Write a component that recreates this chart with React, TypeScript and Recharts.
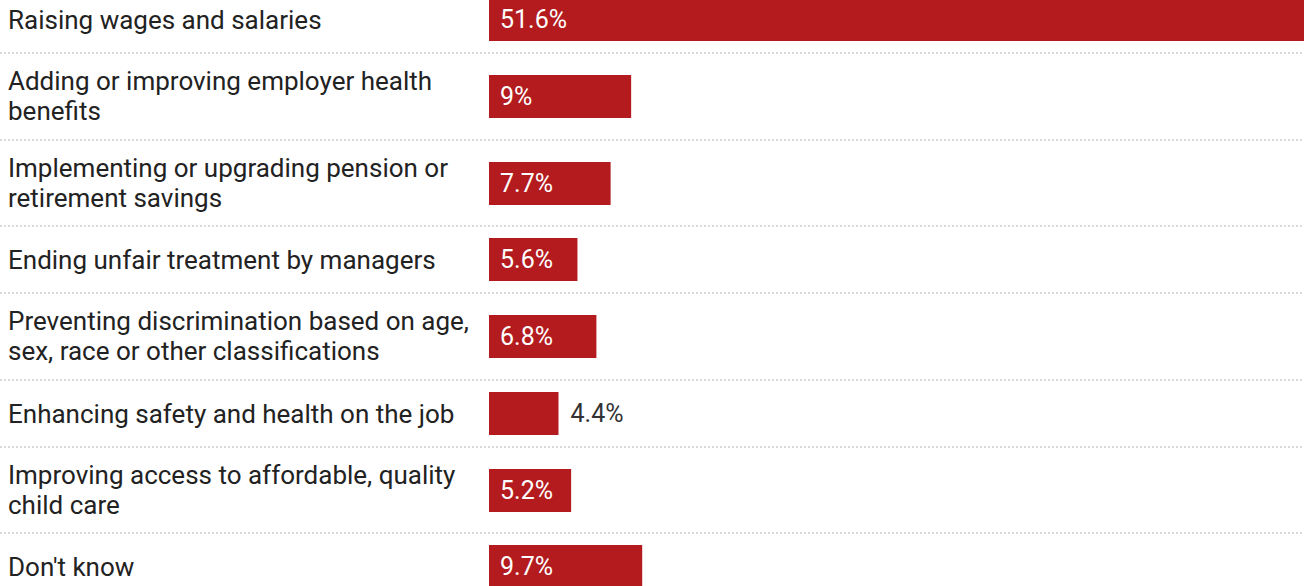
import { BarChart, Bar, XAxis, YAxis, LabelList } from 'recharts'

const CATEGORIES = [
  'Raising wages and salaries',
  'Adding or improving employer health\nbenefits',
  'Implementing or upgrading pension or\nretirement savings',
  'Ending unfair treatment by managers',
  'Preventing discrimination based on age,\nsex, race or other classifications',
  'Enhancing safety and health on the job',
  'Improving access to affordable, quality\nchild care',
  "Don't know",
]

const VALUES = [51.6, 9, 7.7, 5.6, 6.8, 4.4, 5.2, 9.7]

const BAR_COLOR = '#b31b1e'
const TEXT_COLOR = '#222222'
const CHART_WIDTH = 1304
const LABEL_COL = 489
const LABEL_X = 8
const FONT = 'Roboto, "Noto Sans", sans-serif'
const LABEL_SIZE = 26
const VALUE_SIZE = 25
const LINE_GAP = 30
const MAX_VALUE = Math.max(...VALUES)

function rowHeight(label: string): number {
  const lines = label.split('\n').length
  return 67 + (lines - 1) * 19.5
}

function LabelTick(props: any) {
  const { y, payload } = props
  const lines = String(payload.value).split('\n')
  const top = y - ((lines.length - 1) * LINE_GAP) / 2 + LABEL_SIZE * 0.355
  return (
    <text x={LABEL_X} y={top} fill={TEXT_COLOR} fontSize={LABEL_SIZE} fontFamily={FONT} textAnchor="start">
      {lines.map((line, i) => (
        <tspan key={i} x={LABEL_X} y={top + i * LINE_GAP}>
          {line}
        </tspan>
      ))}
    </text>
  )
}

// label sits inside the bar when it fits, otherwise just right of it
function ValueLabel(props: any) {
  const { x, y, width, height, value } = props
  const text = `${value}%`
  const needed = text.length * 13.5 + 22
  const inside = width >= needed
  const ty = y + height / 2 + VALUE_SIZE * 0.355
  return (
    <text
      x={inside ? x + 11 : x + width + 12}
      y={ty}
      fill={inside ? '#ffffff' : '#333333'}
      fontSize={VALUE_SIZE}
      fontFamily={FONT}
      textAnchor="start"
    >
      {text}
    </text>
  )
}

function Row({ label, value, first }: { label: string; value: number; first: boolean }) {
  const height = rowHeight(label)
  const data = [{ label, value }]
  return (
    <div style={{ position: 'relative', height }}>
      {!first && (
        <div
          style={{
            position: 'absolute',
            top: -1,
            left: 0,
            width: CHART_WIDTH,
            height: 2,
            backgroundImage: 'repeating-linear-gradient(to right, #dadada 0 2px, transparent 2px 4px)',
          }}
        />
      )}
      <BarChart
        width={CHART_WIDTH}
        height={height}
        data={data}
        layout="vertical"
        margin={{ top: 0, right: 0, bottom: 0, left: 0 }}
      >
        <XAxis type="number" domain={[0, MAX_VALUE]} hide />
        <YAxis
          type="category"
          dataKey="label"
          width={LABEL_COL}
          axisLine={false}
          tickLine={false}
          tick={<LabelTick />}
        />
        <Bar dataKey="value" fill={BAR_COLOR} barSize={43} isAnimationActive={false}>
          <LabelList dataKey="value" content={<ValueLabel />} />
        </Bar>
      </BarChart>
    </div>
  )
}

export default function App() {
  return (
    <div
      style={{
        position: 'fixed',
        left: 0,
        top: 0,
        width: CHART_WIDTH,
        height: 586,
        overflow: 'hidden',
        background: '#ffffff',
        fontFamily: FONT,
      }}
    >
      <div style={{ position: 'absolute', top: -14, left: 0 }}>
        {CATEGORIES.map((c, i) => (
          <Row key={c} label={c} value={VALUES[i]} first={i === 0} />
        ))}
      </div>
    </div>
  )
}
